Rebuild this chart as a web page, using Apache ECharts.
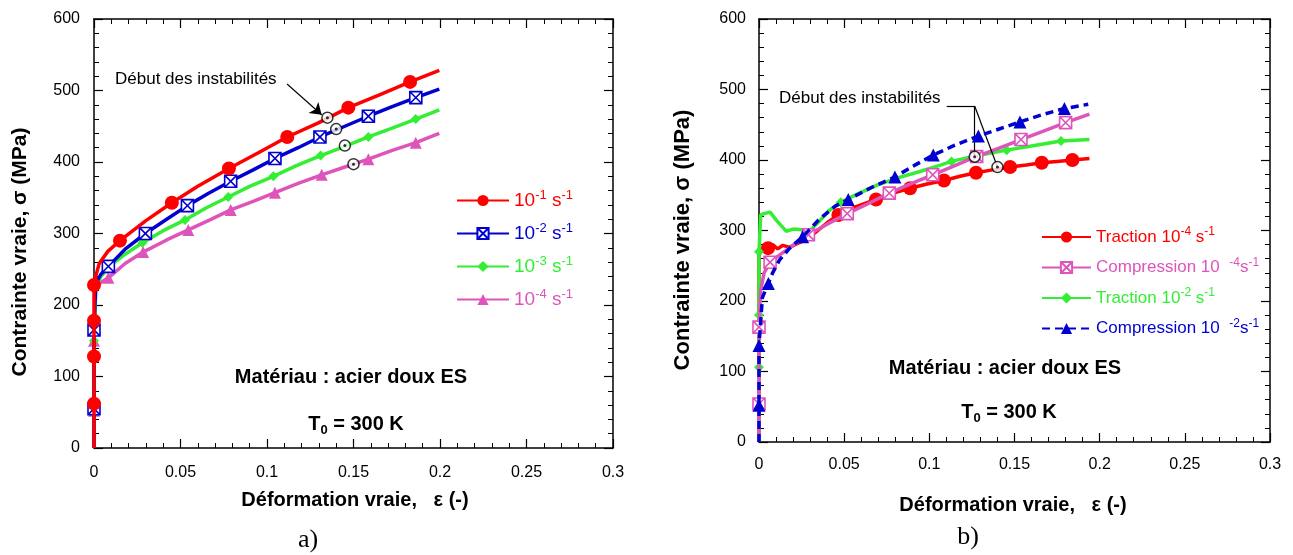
<!DOCTYPE html>
<html><head><meta charset="utf-8">
<script src="https://cdn.jsdelivr.net/npm/echarts@6/dist/echarts.min.js"></script>
<style>html,body{margin:0;padding:0;background:#fff}#c{width:1293px;height:555px}</style>
</head><body><div id="c"></div>
<script>
// ---------- tick values ----------
const xTicks = [0, 0.05, 0.1, 0.15, 0.2, 0.25, 0.3];
const yTicks = [0, 100, 200, 300, 400, 500, 600];

// ---------- chart a) ----------
const aNames = ['10^{-1} s^{-1}', '10^{-2} s^{-1}', '10^{-3} s^{-1}', '10^{-4} s^{-1}'];
const aRedX = [0, 0, 0, 0, 0, 0.001, 0.003, 0.008, 0.015, 0.03, 0.045, 0.06, 0.078, 0.095, 0.1117, 0.13, 0.147, 0.165, 0.1827, 0.1996];
const aRedY = [0, 62, 128, 178, 228, 240, 258, 275, 290, 318, 343, 366, 391, 413, 435, 455, 476, 494, 512, 528];
const aRedMarks = [1, 2, 3, 4, 8, 10, 12, 14, 16, 18];
const aBlueX = [0, 0, 0, 0.001, 0.004, 0.0083, 0.018, 0.0297, 0.042, 0.054, 0.066, 0.079, 0.092, 0.1046, 0.118, 0.1306, 0.145, 0.1586, 0.172, 0.186, 0.1996];
const aBlueY = [0, 55, 165, 230, 243, 254, 278, 300, 320, 339, 356, 373, 389, 405, 420, 435, 450, 464, 477, 490, 502];
const aBlueMarks = [1, 2, 5, 7, 9, 11, 13, 15, 17, 19];
const aGreenX = [0, 0, 0, 0.001, 0.004, 0.01, 0.018, 0.028, 0.04, 0.0526, 0.065, 0.0776, 0.09, 0.1037, 0.117, 0.131, 0.145, 0.1586, 0.172, 0.186, 0.1996];
const aGreenY = [0, 50, 150, 225, 240, 256, 271, 287, 304, 319, 336, 351, 366, 380, 395, 409, 422, 435, 447, 460, 473];
const aGreenMarks = [1, 2, 7, 9, 11, 13, 15, 17, 19];
const aMagX = [0, 0, 0, 0.001, 0.003, 0.0083, 0.018, 0.0284, 0.042, 0.0545, 0.067, 0.079, 0.092, 0.1046, 0.118, 0.1316, 0.145, 0.1586, 0.172, 0.186, 0.1996];
const aMagY = [0, 52, 150, 220, 230, 238, 258, 274, 291, 305, 319, 333, 345, 357, 370, 382, 393, 404, 416, 427, 440];
const aMagMarks = [1, 2, 5, 7, 9, 11, 13, 15, 17, 19];
const aInstX = [0.1349, 0.140, 0.145, 0.150];
const aInstY = [462, 446, 423, 397];
const aArrowFrom = [0.1116, 509];
const aArrowTo = [0.1316, 466];

// ---------- chart b) ----------
const bNames = ['Traction 10^{-4} s^{-1}', 'Compression 10  ^{-4}s^{-1}', 'Traction 10^{-2} s^{-1}', 'Compression 10  ^{-2}s^{-1}'];
const bRedX = [0, 0, 0.001, 0.003, 0.0053, 0.008, 0.011, 0.014, 0.018, 0.022, 0.027, 0.033, 0.04, 0.0466, 0.057, 0.0687, 0.0787, 0.0887, 0.0987, 0.1086, 0.118, 0.1274, 0.137, 0.1474, 0.157, 0.166, 0.175, 0.184, 0.194];
const bRedY = [0, 265, 270, 272, 275, 280, 274, 279, 276, 281, 286, 297, 311, 322, 334, 344, 353, 360, 366, 371, 377, 382, 386, 390, 393, 396, 398, 400, 402];
const bRedMarks = [4, 13, 15, 17, 19, 21, 23, 25, 27];
const bMagX = [0, 0, 0, 0.001, 0.003, 0.0065, 0.012, 0.02, 0.029, 0.04, 0.0518, 0.064, 0.0765, 0.089, 0.102, 0.115, 0.1278, 0.141, 0.1538, 0.167, 0.18, 0.194];
const bMagY = [0, 54, 163, 215, 240, 255, 265, 279, 294, 309, 324, 338, 353, 366, 379, 392, 405, 417, 429, 441, 453, 465];
const bMagMarks = [1, 2, 5, 8, 10, 12, 14, 16, 18, 20];
const bGreenX = [0, 0, 0, 0, 0.001, 0.003, 0.0065, 0.01, 0.0159, 0.02, 0.0256, 0.03, 0.035, 0.041, 0.048, 0.058, 0.07, 0.082, 0.095, 0.107, 0.113, 0.122, 0.13, 0.1454, 0.16, 0.1773, 0.194];
const bGreenY = [0, 106, 180, 270, 322, 324, 326, 315, 299, 302, 301, 300, 312, 328, 340, 352, 365, 375, 384, 393, 398, 403, 407, 414, 420, 427, 429];
const bGreenMarks = [1, 2, 3, 14, 20, 23, 25];
const bBlueX = [0, 0, 0, 0.002, 0.0055, 0.008, 0.012, 0.018, 0.0256, 0.035, 0.045, 0.0524, 0.066, 0.0798, 0.091, 0.1023, 0.115, 0.1288, 0.141, 0.1532, 0.166, 0.1793, 0.1933];
const bBlueY = [0, 52, 137, 205, 225, 240, 258, 275, 291, 315, 335, 344, 361, 376, 392, 407, 421, 434, 444, 454, 464, 473, 479];
const bBlueMarks = [1, 2, 4, 8, 11, 13, 15, 17, 19, 21];
const bInstX = [0.1266, 0.140];
const bInstY = [404.6, 390];
const bLeaderStart = [0.1102, 476.5];
const bLeaderKnee = [0.1266, 476.5];

// ---------- styling ----------
const RED = '#ff0000', BLUE = '#0000d0', GREEN = '#33ee33', MAG = '#dd55bb', BBLUE = '#0000d0';
const FONT = '"Liberation Sans", Arial, sans-serif';
const XSQ = 'path://M0,0L10,0L10,10L0,10Z M0.5,0.5L9.5,9.5 M9.5,0.5L0.5,9.5';

function mkSeries(name, xs, ys, marks, color, symbol, size, axis, opts) {
  opts = opts || {};
  const data = xs.map((x, i) => marks.indexOf(i) >= 0 ? [x, ys[i]] : { value: [x, ys[i]], symbol: 'none' });
  return {
    type: 'line', name, xAxisIndex: axis, yAxisIndex: axis, data,
    symbol, symbolSize: size, showSymbol: true, showAllSymbol: true, symbolKeepAspect: true,
    color, z: opts.z || 2,
    lineStyle: { color, width: 3.5, type: opts.dashed ? [8, 5] : 'solid' },
    itemStyle: opts.hollow ? { color: '#fff', borderColor: color, borderWidth: 1.6 } : { color, borderColor: color, borderWidth: 0 },
    emphasis: { disabled: true }
  };
}
function instSeries(xs, ys, axis, lines, arrow) {
  const data = xs.map((x, i) => [x, ys[i]]);
  return [{
    type: 'scatter', xAxisIndex: axis, yAxisIndex: axis, data, symbol: 'circle', symbolSize: 11, z: 10,
    itemStyle: { color: '#fff', borderColor: '#000', borderWidth: 1.5 }, emphasis: { disabled: true },
    markLine: {
      silent: true, symbol: arrow ? ['none', 'arrow'] : ['none', 'none'], symbolSize: 11,
      lineStyle: { color: '#000', width: 1.2, type: 'solid' }, label: { show: false },
      data: lines.map(l => [{ coord: l[0] }, { coord: l[1] }])
    }
  }, {
    type: 'scatter', xAxisIndex: axis, yAxisIndex: axis, data, symbol: 'circle', symbolSize: 3, z: 11,
    itemStyle: { color: '#000' }, emphasis: { disabled: true }
  }];
}
function axesFor(gi) {
  const common = { min: xTicks[0], max: xTicks[xTicks.length - 1], interval: xTicks[1] - xTicks[0], gridIndex: gi, splitLine: { show: false },
    axisLine: { onZero: false, lineStyle: { color: '#000', width: 1.5 } },
    axisTick: { inside: true, length: 9, lineStyle: { color: '#000', width: 1.2 } },
    minorTick: { show: true, splitNumber: 5, length: 5, lineStyle: { color: '#000', width: 1 } } };
  const ycommon = Object.assign({}, common, { min: yTicks[0], max: yTicks[yTicks.length - 1], interval: yTicks[1] - yTicks[0] });
  return {
    x: [Object.assign({ type: 'value', position: 'bottom', axisLabel: { margin: gi ? 15 : 17, color: '#000', fontFamily: FONT, fontSize: 16, formatter: v => String(+v.toFixed(2)) } }, common),
        Object.assign({ type: 'value', position: 'top', axisLabel: { show: false } }, common)],
    y: [Object.assign({ type: 'value', position: 'left', axisLabel: { margin: gi ? 13 : 14, color: '#000', fontFamily: FONT, fontSize: 16 } }, ycommon),
        Object.assign({ type: 'value', position: 'right', axisLabel: { show: false } }, ycommon)]
  };
}
function richLegend(names, colors, fs, sfs) {
  const rich = {};
  colors.forEach((c, i) => {
    rich['n' + i] = { color: c, fontFamily: FONT, fontSize: fs };
    rich['s' + i] = { color: c, fontFamily: FONT, fontSize: sfs, padding: [0, 0, 10, 0] };
  });
  return {
    rich,
    formatter: name => {
      const i = names.indexOf(name);
      return name.split(/(\^\{[^}]*\})/).filter(p => p.length).map(p => {
        if (p.startsWith('^{')) return '{s' + i + '|' + p.slice(2, -1) + '}';
        return '{n' + i + '|' + p + '}';
      }).join('');
    }
  };
}

const A = axesFor(0), B = axesFor(1);
const aLeg = richLegend(aNames, [RED, BLUE, GREEN, MAG], 19, 13);
const bLeg = richLegend(bNames, [RED, MAG, GREEN, BBLUE], 17, 12);

const series = [
  mkSeries(aNames[3], aMagX, aMagY, aMagMarks, MAG, 'triangle', 12, 0, { z: 2 }),
  mkSeries(aNames[2], aGreenX, aGreenY, aGreenMarks, GREEN, 'diamond', 10, 0, { z: 3 }),
  mkSeries(aNames[1], aBlueX, aBlueY, aBlueMarks, BLUE, XSQ, 12, 0, { z: 4, hollow: true }),
  mkSeries(aNames[0], aRedX, aRedY, aRedMarks, RED, 'circle', 14, 0, { z: 5 }),
  ...instSeries(aInstX, aInstY, 0, [[aArrowFrom, aArrowTo]], true),
  mkSeries(bNames[0], bRedX, bRedY, bRedMarks, RED, 'circle', 14, 2, { z: 2 }),
  mkSeries(bNames[2], bGreenX, bGreenY, bGreenMarks, GREEN, 'diamond', 10, 2, { z: 3 }),
  mkSeries(bNames[1], bMagX, bMagY, bMagMarks, MAG, XSQ, 12, 2, { z: 4, hollow: true }),
  mkSeries(bNames[3], bBlueX, bBlueY, bBlueMarks, BBLUE, 'triangle', 13, 2, { z: 5, dashed: true }),
  ...instSeries(bInstX, bInstY, 2, [[bLeaderStart, bLeaderKnee], [bLeaderKnee, [bInstX[0], bInstY[0]]], [bLeaderKnee, [bInstX[1], bInstY[1]]]], false)
];

function txt(x, y, text, font, extra, align) {
  return Object.assign({ type: 'text', x, y, silent: true,
    style: { text, font, fill: '#000', align: align || 'center', verticalAlign: 'middle' } }, extra || {});
}
const BOLD20 = 'bold 20px ' + FONT;
const t0Rich = { b: { fontFamily: FONT, fontSize: 20, fontWeight: 'bold', fill: '#000' }, sub: { fontFamily: FONT, fontSize: 13, fontWeight: 'bold', padding: [12, 0, 0, 0], fill: '#000' } };

const option = {
  animation: false,
  backgroundColor: '#fff',
  grid: [{ left: 94, top: 19, width: 519, height: 429 }, { left: 759, top: 19, width: 511, height: 423 }],
  xAxis: [A.x[0], A.x[1], B.x[0], B.x[1]].map((a, i) => Object.assign({}, a, { gridIndex: i < 2 ? 0 : 1 })),
  yAxis: [A.y[0], A.y[1], B.y[0], B.y[1]].map((a, i) => Object.assign({}, a, { gridIndex: i < 2 ? 0 : 1 })),
  legend: [{
    data: aNames, orient: 'vertical', left: 451, top: 184, itemWidth: 52, itemHeight: 14, itemGap: 12,
    textStyle: { fontFamily: FONT, fontSize: 19, rich: aLeg.rich }, formatter: aLeg.formatter, selectedMode: false
  }, {
    data: bNames, orient: 'vertical', left: 1036, top: 221, itemWidth: 49, itemHeight: 14, itemGap: 11,
    textStyle: { fontFamily: FONT, fontSize: 17, rich: bLeg.rich }, formatter: bLeg.formatter, selectedMode: false
  }],
  series,
  graphic: [
    txt(115, 79, 'Début des instabilités', '17px ' + FONT, null, 'left'),
    txt(779, 98, 'Début des instabilités', '17px ' + FONT, null, 'left'),
    txt(351, 377, 'Matériau : acier doux ES', BOLD20),
    txt(1005, 368, 'Matériau : acier doux ES', BOLD20),
    { type: 'text', x: 356, y: 424, silent: true, style: { text: '{b|T}{sub|0}{b| = 300 K}', rich: t0Rich, align: 'center', verticalAlign: 'middle' } },
    { type: 'text', x: 1009, y: 412, silent: true, style: { text: '{b|T}{sub|0}{b| = 300 K}', rich: t0Rich, align: 'center', verticalAlign: 'middle' } },
    txt(355, 500, 'Déformation vraie,   ε (-)', BOLD20),
    txt(1013, 505, 'Déformation vraie,   ε (-)', BOLD20),
    txt(20, 252, 'Contrainte vraie, σ (MPa)', 'bold 21px ' + FONT, { rotation: Math.PI / 2 }),
    txt(683, 240, 'Contrainte vraie, σ (MPa)', 'bold 22px ' + FONT, { rotation: Math.PI / 2 }),
    txt(308, 540, 'a)', '26px "Liberation Serif", "DejaVu Serif", serif'),
    txt(968, 537, 'b)', '26px "Liberation Serif", "DejaVu Serif", serif')
  ]
};
const chart = echarts.init(document.getElementById('c'), null, { renderer: 'canvas' });
chart.setOption(option);
</script></body></html>
